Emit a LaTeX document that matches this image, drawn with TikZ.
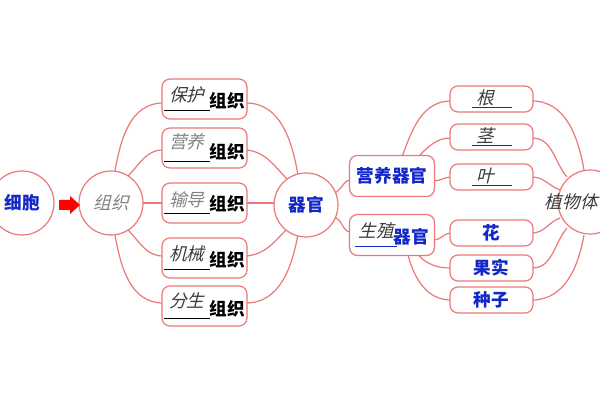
\documentclass[tikz,border=0pt]{standalone}
\usepackage{fontspec}
\usetikzlibrary{arrows.meta}
\newfontfamily\cjk{Noto Sans CJK SC}
\newfontfamily\cjki[FakeSlant=0.25]{Noto Sans CJK SC}
\definecolor{ln}{RGB}{236,120,120}
\definecolor{bl}{RGB}{20,40,200}
\definecolor{gy}{RGB}{130,130,130}
\definecolor{dk}{RGB}{60,60,60}
\newcommand\blk[5]{\makebox[0pt][l]{\color{#2}\rule[-1.5pt]{#1}{0.6pt}}\makebox[#1][c]{\raisebox{#5}{\cjki\color{#3}#4}}}
\tikzset{
 x=0.5pt,y=-0.5pt,
 every node/.style={font=\cjk\fontsize{8.8}{10}\selectfont, inner sep=0pt},
 circ/.style={circle, draw=ln, fill=white, line width=0.6pt, minimum size=32pt},
 lbox/.style={draw=ln, fill=white, rounded corners=4pt, line width=0.6pt, minimum width=42.5pt, minimum height=20pt},
 rbox/.style={draw=ln, fill=white, rounded corners=4pt, line width=0.6pt, minimum width=41.5pt, minimum height=13pt},
 mbox/.style={draw=ln, fill=white, rounded corners=4pt, line width=0.6pt, minimum width=42.5pt, minimum height=20.5pt},
 con/.style={draw=ln, line width=0.6pt},
 blue/.style={text=bl, font=\cjk\bfseries\fontsize{8.8}{10}\selectfont}
}
\begin{document}
\begin{tikzpicture}
\clip (0,0) rectangle (600,400);
\fill[white] (0,0) rectangle (600,400);
\coordinate (g) at (111,203);
\coordinate (q) at (306,205);
\coordinate (z) at (590,202);
\coordinate (b1) at (204.5,99);
\coordinate (b2) at (204.5,148);
\coordinate (b3) at (204.5,203);
\coordinate (b4) at (204.5,258);
\coordinate (b5) at (204.5,306);
\coordinate (yy) at (392,176);
\coordinate (sz) at (392,235);
\coordinate (r1) at (491.5,99);
\coordinate (r2) at (491.5,137);
\coordinate (r3) at (491.5,177);
\coordinate (r4) at (491.5,233);
\coordinate (r5) at (491.5,268);
\coordinate (r6) at (491.5,300);
\draw[con] (115,171) to[out=80,in=180] (163,103);
\draw[con] (128,176) to[out=45,in=180] (163,150);
\draw[con] (143,203) -- (163,203);
\draw[con] (128,230) to[out=-45,in=180] (163,256);
\draw[con] (115,235) to[out=-80,in=180] (163,303);
\draw[con] (246,103) to[out=0,in=100] (298,175);
\draw[con] (246,150) to[out=-5,in=135] (288,180);
\draw[con] (246,203) -- (275,203);
\draw[con] (246,256) to[out=5,in=-135] (288,228);
\draw[con] (246,303) to[out=0,in=-100] (298,234);
\draw[con] (334,193) to[out=15,in=180] (351,180);
\draw[con] (334,217) to[out=-15,in=180] (351,232);
\draw[con] (402,157) to[out=70,in=180] (451,101);
\draw[con] (418,157) to[out=45,in=180] (451,138);
\draw[con] (434,181) to[out=0,in=180] (451,177);
\draw[con] (434,240) to[out=0,in=180] (451,233);
\draw[con] (418,255) to[out=-45,in=180] (451,268);
\draw[con] (408,255) to[out=-75,in=180] (451,300);
\draw[con] (532,101) to[out=0,in=100] (584,170);
\draw[con] (532,138) to[out=0,in=130] (567,177);
\draw[con] (532,177) to[out=0,in=160] (560,190);
\draw[con] (532,233) to[out=0,in=-160] (560,218);
\draw[con] (532,268) to[out=0,in=-130] (567,228);
\draw[con] (532,300) to[out=0,in=-100] (584,235);
\node[circ, blue] (xb) at (22,203) {细胞};
\node[circ, text=gy, font=\cjki\fontsize{8.8}{10}\selectfont] (zz) at (g) {组织};
\node[circ, blue] (qg) at (q) {器官};
\node[circ] (zwt) at (z) {};
\node[text=dk, font=\cjki\fontsize{8.8}{10}\selectfont, anchor=east] (zwtl) at (598,202) {植物体};
\fill[red] (59,200) -- (70,200) -- (70,196) -- (80,205) -- (70,214) -- (70,210) -- (59,210) -- cycle;
\node[lbox] (n1) at (b1) {\blk{23pt}{black}{dk}{保护}{3pt}\textbf{组织}};
\node[lbox] (n2) at (b2) {\blk{23pt}{black}{gy}{营养}{5pt}\textbf{组织}};
\node[lbox] (n3) at (b3) {\blk{23pt}{black}{gy}{输导}{2pt}\textbf{组织}};
\node[lbox] (n4) at (b4) {\blk{23pt}{black}{dk}{机械}{3pt}\textbf{组织}};
\node[lbox] (n5) at (b5) {\blk{23pt}{black}{dk}{分生}{4pt}\textbf{组织}};
\node[mbox, blue] (m1) at (yy) {营养器官};
\node[mbox] (m2) at (sz) {\blk{21pt}{bl}{dk}{生殖}{3pt}\kern-2pt\textcolor{bl}{\textbf{器官}}};
\node[rbox] (s1) at (r1) {\blk{20pt}{bl}{dk}{根\hspace{6pt}}{0pt}};
\node[rbox] (s2) at (r2) {\blk{20pt}{bl}{dk}{茎\hspace{6pt}}{0pt}};
\node[rbox] (s3) at (r3) {\blk{20pt}{bl}{dk}{叶\hspace{6pt}}{0pt}};
\node[rbox, blue] (s4) at (r4) {花};
\node[rbox, blue] (s5) at (r5) {果实};
\node[rbox, blue] (s6) at (r6) {种子};
\end{tikzpicture}
\end{document}
